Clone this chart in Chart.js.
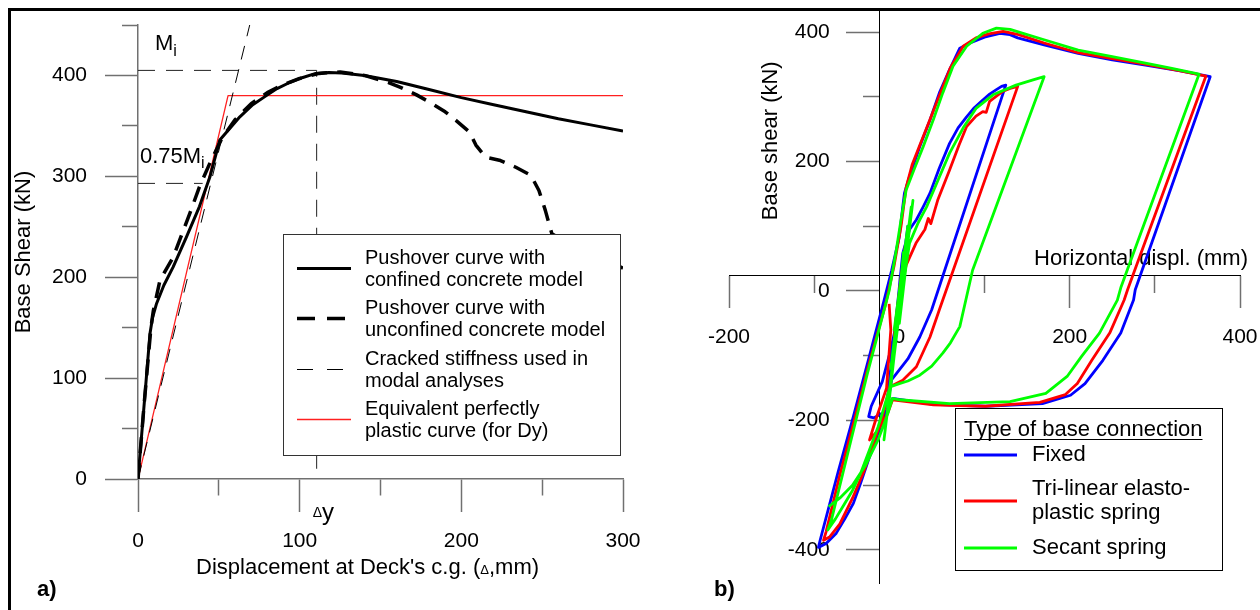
<!DOCTYPE html>
<html>
<head>
<meta charset="utf-8">
<script src="https://cdn.jsdelivr.net/npm/chart.js@4.4.1/dist/chart.umd.min.js"></script>
<style>
html, body { margin: 0; padding: 0; background: #fff; }
#wrap { position: relative; width: 1260px; height: 610px; overflow: hidden; }
#frame { position: absolute; left: 8px; top: 8px; width: 1270px; height: 620px; border-top: 3px solid #000; border-left: 3px solid #000; pointer-events: none; }
#chartA { position: absolute; left: 0; top: 0; }
#chartB { position: absolute; left: 690px; top: 0; }
</style>
</head>
<body>
<div id="wrap">
  <canvas id="chartA" width="690" height="610"></canvas>
  <canvas id="chartB" width="570" height="610"></canvas>
  <div id="frame"></div>
</div>
<script>
var FONT = 'Arial, "Liberation Sans", Helvetica, sans-serif';
Chart.defaults.font.family = FONT;
Chart.defaults.font.size = 21;
Chart.defaults.color = '#000';

// ---- a) pushover curves (displacement mm, base shear kN)
var confinedX = [0, 3, 7.4, 9, 11.5, 16, 21.7, 30, 38, 44.4, 50.6, 57, 63, 71, 79.4, 86, 93.8, 102, 110, 118, 126, 140, 160, 180, 200, 220, 240, 260, 280, 300];
var confinedY = [0, 58, 144, 160, 174, 192, 210, 240, 270, 299, 336, 348, 359, 371, 380, 387, 393, 398, 402, 403, 402.5, 400, 394, 386, 378, 371, 364, 357, 351, 345];

var unconfinedX = [0, 4, 8, 9.5, 13.6, 21.8, 32, 38, 45, 52, 60, 70, 80, 90, 100, 112, 125, 140, 155, 162, 172, 182, 190, 197, 205, 209, 215, 223.5, 233.7, 243, 248, 252, 256, 270, 285, 300];
var unconfinedY = [0, 78, 150, 167, 197, 220, 263, 289.5, 315, 338, 356, 372, 383, 391, 397, 402, 403.5, 400, 393, 388.5, 381, 372, 364, 355, 344, 331, 319, 316, 309, 301, 286, 266, 243, 230, 220, 209];

var crackedX = [0, 69.1];
var crackedY = [0, 450];

var equivX = [0, 55.7, 300];
var equivY = [0, 380, 380];

var miLineX = [0, 110.5, 110.5];
var miLineY = [405, 405, 0];
var mi75X = [0, 40];
var mi75Y = [293, 293];

var legendA = [
  ['Pushover curve with', 'confined concrete model'],
  ['Pushover curve with', 'unconfined concrete model'],
  ['Cracked stiffness used in', 'modal analyses'],
  ['Equivalent perfectly', 'plastic curve (for Dy)']
];

// ---- b) hysteresis (horizontal displ. mm, base shear kN)
var fixedX = [0, 5, -4, 8, -10, 10, -15, -2,
  4, 12, 20, 28, 36, 47, 59, 69, 79, 88, 98, 106, 114, 120, 125,
  38, 24, 10, -3, -9, -15, -25, -35, -45, -54, -64, -74, -86, -95,
  -93, -72, -54, -36, -18, -9, 0, 4, 6, 12, 18, 24, 36, 47, 59, 71, 83, 100, 118, 130, 139, 170, 210, 250, 289, 330, 365,
  277, 275, 260, 239, 218, 201, 168, 101, 40, -8,
  -15, -30, -36, -33, -20, -10, 0];
var fixedY = [0, 45, -45, 80, -110, 100, -180, -20,
  58, 95, 110, 130, 151, 190, 228, 252, 269, 283, 295, 304, 311, 316, 318,
  -29, -71, -105, -127, -137, -184, -220, -256, -295, -328, -352, -374, -390, -396,
  -385, -280, -194, -105, -15, 32, 84, 130, 151, 177, 200, 223, 264, 306, 342, 375, 383, 392, 398, 396, 391, 380, 367, 357, 349, 340, 331,
  2, -14, -65, -107, -143, -161, -174, -178, -175, -166,
  -185, -196, -194, -178, -140, -90, -30];

var trilinX = [0, 4, -4, 7, -6, 0,
  8, 20, 30, 34, 37, 45, 59, 70, 79, 90, 98, 102, 106, 114, 121, 130, 139,
  47, 36, 20, 4, -11, -20, -30, -42, -55, -70, -82, -89,
  -86, -70, -52, -34, -16, -6, 2, 8, 15, 24, 36, 48, 60, 75, 90, 105, 122, 140, 170, 210, 250, 290, 330, 360,
  268, 264, 247, 226, 209, 195, 165, 101, 40, -8,
  -14, -25, -35, -28, -15, -10, -12];
var trilinY = [0, 40, -45, 70, -70, -10,
  40, 75, 95, 112, 104, 140, 187, 225, 254, 270, 277, 276, 293, 301, 308, 313, 316,
  -29, -71, -117, -138, -148, -195, -235, -280, -320, -360, -380, -385,
  -372, -285, -195, -105, -20, 40, 100, 160, 195, 225, 265, 305, 345, 378, 391, 397, 401, 396, 383, 368, 359, 350, 340, 332,
  2, -14, -65, -107, -143, -160, -172, -178, -176, -168,
  -190, -215, -230, -200, -150, -60, -20];

var secantX = [0, 6, -6, 10, -10, 14, -14, 16, -18, 10, -12, 5,
  0, 8, 12, 22, 32, 45, 59, 75, 90, 110, 137, 157, 170,
  86, 71, 60, 51, 38, 24, 10, 0, -11, -18, -25, -35, -45, -55, -65, -75, -84,
  -80, -66, -52, -38, -24, -12, -4, 2, 8, 18, 28, 40, 51, 63, 79, 98, 114, 130, 150, 170, 210, 250, 289, 320, 352,
  260, 256, 235, 214, 197, 172, 130, 59, 0, -8,
  -15, -25, -40, -55, -70, -83];
var secantY = [0, 50, -60, 100, -120, 130, -180, 140, -230, 90, -170, 60,
  -50, 40, 74, 105, 130, 170, 213, 252, 282, 303, 318, 326, 331,
  32, -55, -80, -96, -116, -130, -139, -143, -148, -180, -210, -245, -280, -308, -330, -352, -369,
  -355, -280, -205, -130, -60, 0, 60, 110, 156, 190, 223, 265, 306, 347, 378, 398, 406, 404, 396, 388, 372, 362, 352, 344, 335,
  5, -14, -65, -101, -132, -158, -171, -174, -168, -166,
  -195, -230, -270, -300, -320, -333];

var legendB = [
  {text: ['Fixed'], ds: 2},
  {text: ['Tri-linear elasto-', 'plastic spring'], ds: 1},
  {text: ['Secant spring'], ds: 0}
];

function pts(xs, ys) {
  return xs.map(function (x, i) { return {x: x, y: ys[i]}; });
}

function line(xs, ys, color, width, dash) {
  return {
    data: pts(xs, ys), showLine: true, pointRadius: 0, borderColor: color,
    borderWidth: width, borderDash: dash || [], tension: 0, fill: false,
    borderJoinStyle: 'round'
  };
}

function noPad(s) {
  s.paddingLeft = 0; s.paddingRight = 0; s.paddingTop = 0; s.paddingBottom = 0;
}

// text with a subscript / small part
function drawParts(c, parts, x, y) {
  parts.forEach(function (p) {
    c.font = p[1] + 'px ' + FONT;
    c.fillText(p[0], x, y + (p[2] || 0));
    x += c.measureText(p[0]).width;
  });
}

var panelA = {
  id: 'panelA',
  beforeDatasetsDraw: function (chart) {
    var c = chart.ctx, xs = chart.scales.x, ys = chart.scales.y;
    c.save();
    c.fillStyle = '#000';
    c.textAlign = 'left';
    c.textBaseline = 'alphabetic';
    var parts = [["Displacement at Deck's c.g. (", 22], ['\u0394', 13], [',mm)', 22]];
    var w = 0;
    parts.forEach(function (p) { c.font = p[1] + 'px ' + FONT; w += c.measureText(p[0]).width; });
    drawParts(c, parts, xs.getPixelForValue(142) - w / 2, ys.bottom + 95);

    c.translate(24, (ys.top + ys.bottom) / 2);
    c.rotate(-Math.PI / 2);
    c.font = '22px ' + FONT;
    c.textAlign = 'center';
    c.textBaseline = 'middle';
    c.fillText('Base Shear (kN)', 0, 0);
    c.restore();
  },
  afterDatasetsDraw: function (chart) {
    var c = chart.ctx, xs = chart.scales.x, ys = chart.scales.y;
    c.save();
    // legend
    c.fillStyle = '#fff';
    c.fillRect(283, 234, 337, 221);
    c.strokeStyle = '#333';
    c.lineWidth = 1;
    c.strokeRect(283.5, 234.5, 337, 221);
    var dashes = [[], [18, 12], [16, 14], []];
    legendA.forEach(function (txt, i) {
      var ds = chart.data.datasets[i];
      var yy = Math.round(268 + i * 50.3) + 0.5;
      c.strokeStyle = ds.borderColor;
      c.lineWidth = ds.borderWidth;
      c.setLineDash(dashes[i]);
      c.beginPath(); c.moveTo(297, yy); c.lineTo(351, yy); c.stroke();
      c.setLineDash([]);
      c.fillStyle = '#000';
      c.font = '20px ' + FONT;
      c.textAlign = 'left';
      c.textBaseline = 'middle';
      c.fillText(txt[0], 365, yy - 10);
      c.fillText(txt[1], 365, yy + 12);
    });
    // annotations
    c.textBaseline = 'alphabetic';
    c.fillStyle = '#000';
    drawParts(c, [['M', 22], ['i', 16, 6]], xs.getPixelForValue(10.5), ys.getPixelForValue(425));
    drawParts(c, [['0.75M', 22], ['i', 16, 5]], xs.getPixelForValue(1.2), ys.getPixelForValue(313));
    var dx = xs.getPixelForValue(miLineX[1]);
    drawParts(c, [['\u0394', 14, -3], ['y', 24]], dx - 4, ys.bottom + 41);
    c.font = 'bold 22px ' + FONT;
    c.textBaseline = 'middle';
    c.fillText('a)', 37, 590);
    c.restore();
  }
};

var chartA = new Chart(document.getElementById('chartA').getContext('2d'), {
  type: 'scatter',
  data: {
    datasets: [
      line(confinedX, confinedY, '#000', 3),
      line(unconfinedX, unconfinedY, '#000', 3.5, [16, 10]),
      line(crackedX, crackedY, '#000', 1, [14, 10]),
      line(equivX, equivY, '#ff2020', 1.3),
      line(miLineX, miLineY, '#222', 1, [17, 11]),
      line(mi75X, mi75Y, '#222', 1, [17, 11])
    ]
  },
  options: {
    responsive: false,
    animation: false,
    events: [],
    layout: {padding: {top: 25, right: 67, left: 0, bottom: 0}},
    plugins: {legend: {display: false}, tooltip: {enabled: false}},
    scales: {
      x: {
        type: 'linear', position: 'bottom', min: 0, max: 300,
        ticks: {stepSize: 50, autoSkip: false, maxRotation: 0, padding: 17,
          callback: function (v) { return v % 100 === 0 ? v : ''; }},
        grid: {drawOnChartArea: false, tickLength: 33, tickColor: '#707070', tickWidth: 1.5,
          tickBorderDash: function (ctx) { return ctx.tick && ctx.tick.value % 100 ? [16, 100] : []; }},
        border: {color: '#707070', width: 1.5},
        afterFit: function (s) { s.height = 131; noPad(s); }
      },
      y: {
        type: 'linear', position: 'left', min: 0, max: 450,
        ticks: {stepSize: 50, autoSkip: false, padding: 18,
          callback: function (v) { return v % 100 === 0 ? v : ''; }},
        grid: {drawOnChartArea: false, tickLength: 33, tickColor: '#707070', tickWidth: 1.5,
          tickBorderDash: function (ctx) { return ctx.tick && ctx.tick.value % 100 ? [0, 17, 16, 100] : []; }},
        border: {color: '#707070', width: 1.5},
        afterFit: function (s) { s.width = 138; noPad(s); }
      }
    }
  },
  plugins: [panelA]
});

var panelB = {
  id: 'panelB',
  beforeDatasetsDraw: function (chart) {
    var c = chart.ctx, xs = chart.scales.x, ys = chart.scales.y;
    var axisX = xs.getPixelForValue(-23);
    c.save();
    c.fillStyle = '#000';
    // y tick labels (left of the crossing axis)
    c.font = '21px ' + FONT;
    c.textAlign = 'right';
    c.textBaseline = 'middle';
    ys.ticks.forEach(function (t) {
      if (t.value % 200 === 0) c.fillText(String(t.value), axisX - 50, ys.getPixelForValue(t.value));
    });
    c.font = '22px ' + FONT;
    c.fillText('Horizontal displ. (mm)', xs.getPixelForValue(400) + 8, ys.getPixelForValue(24) - 17);
    c.translate(axisX - 109, ys.getPixelForValue(232));
    c.rotate(-Math.PI / 2);
    c.textAlign = 'center';
    c.fillText('Base shear (kN)', 0, 0);
    c.restore();
  },
  afterDatasetsDraw: function (chart) {
    var c = chart.ctx;
    c.save();
    c.fillStyle = '#fff';
    c.fillRect(265, 408, 267, 162);
    c.strokeStyle = '#000';
    c.lineWidth = 1;
    c.strokeRect(265.5, 408.5, 267, 162);
    c.fillStyle = '#000';
    c.font = '22px ' + FONT;
    c.textAlign = 'left';
    c.textBaseline = 'middle';
    var title = 'Type of base connection';
    c.fillText(title, 274, 430);
    c.beginPath();
    c.moveTo(274, 439.5); c.lineTo(274 + c.measureText(title).width, 439.5); c.stroke();
    var rows = [455, 501, 548];
    legendB.forEach(function (item, i) {
      var ds = chart.data.datasets[item.ds];
      var yy = rows[i];
      c.strokeStyle = ds.borderColor;
      c.lineWidth = 3;
      c.beginPath(); c.moveTo(274, yy); c.lineTo(327, yy); c.stroke();
      if (item.text.length === 1) {
        c.fillText(item.text[0], 342, yy);
      } else {
        c.fillText(item.text[0], 342, yy - 12);
        c.fillText(item.text[1], 342, yy + 12);
      }
    });
    c.font = 'bold 22px ' + FONT;
    c.fillText('b)', 24, 590);
    c.restore();
  }
};

var chartB = new Chart(document.getElementById('chartB').getContext('2d'), {
  type: 'scatter',
  data: {
    datasets: [
      line(secantX, secantY, '#00ff00', 2.8),
      line(trilinX, trilinY, '#ff0000', 2.8),
      line(fixedX, fixedY, '#0000ff', 2.8)
    ]
  },
  options: {
    responsive: false,
    animation: false,
    events: [],
    layout: {padding: {top: 10, right: 20, left: 39, bottom: 27}},
    plugins: {legend: {display: false}, tooltip: {enabled: false}},
    scales: {
      x: {
        type: 'linear', position: {y: 24}, min: -200, max: 400,
        ticks: {stepSize: 100, autoSkip: false, maxRotation: 0, padding: 17,
          callback: function (v) { return v % 200 === 0 ? v : ''; }},
        grid: {drawOnChartArea: false, tickLength: 32, tickColor: '#707070', tickWidth: 1.5,
          tickBorderDash: function (ctx) { return ctx.tick && ctx.tick.value % 200 ? [17, 100] : []; }},
        border: {color: '#000', width: 1},
        afterFit: noPad
      },
      y: {
        type: 'linear', position: {x: -23}, min: -451, max: 434,
        afterBuildTicks: function (s) { s.ticks = s.ticks.filter(function (t) { return t.value % 100 === 0; }); },
        ticks: {stepSize: 100, autoSkip: false, includeBounds: false, display: false},
        grid: {drawOnChartArea: false, tickLength: 33, tickColor: '#707070', tickWidth: 1.5,
          tickBorderDash: function (ctx) { return ctx.tick && ctx.tick.value % 200 ? [16, 100] : []; }},
        border: {color: '#000', width: 1},
        afterFit: noPad
      }
    }
  },
  plugins: [panelB]
});
</script>
</body>
</html>
